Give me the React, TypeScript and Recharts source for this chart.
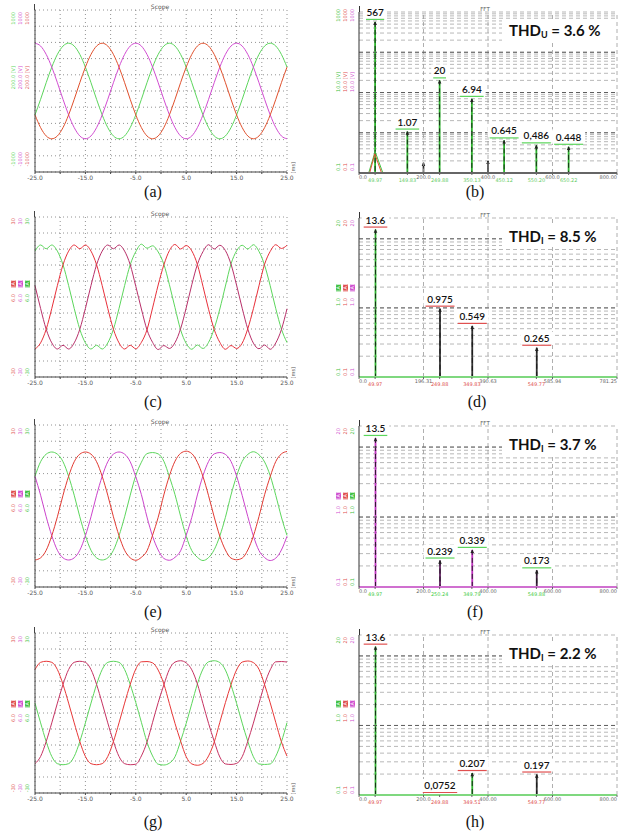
import React from 'react';
import { LineChart, Line, XAxis, YAxis, CartesianGrid, ComposedChart, Bar, LabelList, ReferenceLine } from 'recharts';

// ---------- time base of the scope traces (ms) ----------
const timeMs = [-25, -23.89, -22.78, -21.67, -20.56, -19.44, -18.33, -17.22, -16.11, -15, -13.89, -12.78, -11.67, -10.56, -9.44, -8.33, -7.22, -6.11, -5, -3.89, -2.78, -1.67, -0.56, 0.56, 1.67, 2.78, 3.89, 5, 6.11, 7.22, 8.33, 9.44, 10.56, 11.67, 12.78, 13.89, 15, 16.11, 17.22, 18.33, 19.44, 20.56, 21.67, 22.78, 23.89, 25];

// (a) phase voltages [V]
const voltA_green = [-295, -103, 103, 295, 452, 555, 590, 555, 452, 295, 103, -103, -295, -452, -555, -590, -555, -452,
  -295, -103, 103, 295, 452, 555, 590, 555, 452, 295, 103, -103, -295, -452, -555, -590, -555, -452,
  -295, -103, 103, 295, 452, 555, 590, 555, 452, 295];
const voltA_red = [-295, -452, -555, -590, -555, -452, -295, -103, 103, 295, 452, 555, 590, 555, 452, 295, 103, -103,
  -295, -452, -555, -590, -555, -452, -295, -103, 103, 295, 452, 555, 590, 555, 452, 295, 103, -103,
  -295, -452, -555, -590, -555, -452, -295, -103, 103, 295];
const voltA_magenta = [590, 555, 452, 295, 103, -103, -295, -452, -555, -590, -555, -452, -295, -103, 103, 295, 452, 555,
  590, 555, 452, 295, 103, -103, -295, -452, -555, -590, -555, -452, -295, -103, 103, 295, 452, 555,
  590, 555, 452, 295, 103, -103, -295, -452, -555, -590];

// (c) phase currents [A]
const curC_red = [-19.5, -17.2, -12.1, -4.3, 4.3, 12.1, 17.2, 19.5, 18.1, 19.5, 17.2, 12.1, 4.3, -4.3, -12.1, -17.2, -19.5, -18.1,
  -19.4, -17.0, -12.3, -4.1, 4.5, 12.0, 17.4, 19.7, 18.0, 19.3, 17.3, 12.2, 4.0, -4.6, -12.2, -17.0, -19.6, -18.2,
  -19.3, -17.3, -11.9, -4.4, 4.2, 12.3, 17.1, 19.6, 18.2, 19.4];
const curC_magenta = [4.3, -4.3, -12.1, -17.2, -19.5, -18.1, -19.5, -17.2, -12.1, -4.3, 4.3, 12.1, 17.2, 19.5, 18.1, 19.5, 17.2, 12.1,
  4.0, -4.5, -12.3, -17.0, -19.7, -18.2, -19.3, -17.1, -11.9, -4.1, 4.6, 12.2, 17.0, 19.6, 18.0, 19.4, 17.4, 12.3,
  4.4, -4.2, -12.0, -17.3, -19.4, -18.0, -19.6, -17.2, -12.2, -4.4];
const curC_green = [17.2, 19.5, 18.1, 19.5, 17.2, 12.1, 4.3, -4.3, -12.1, -17.2, -19.5, -18.1, -19.5, -17.2, -12.1, -4.3, 4.3, 12.1,
  17.0, 19.8, 18.3, 19.2, 16.9, 12.3, 4.6, -4.0, -12.3, -17.4, -19.6, -18.0, -19.3, -17.0, -11.8, -4.5, 4.1, 12.4,
  17.3, 19.4, 18.0, 19.6, 17.1, 11.9, 4.2, -4.4, -12.0, -17.1];

// (e) phase currents [A]
const curE_red = [-20, -19.2, -16.4, -11, -4, 4, 11, 16.4, 19.2, 20, 19.2, 16.4, 11, 4, -4, -11, -16.4, -19.2,
  -20.1, -19.0, -16.6, -10.8, -4.2, 4.1, 11.2, 16.6, 19.5, 20.3, 19.4, 16.2, 10.9, 3.8, -4.1, -11.2, -16.3, -19.3,
  -19.9, -19.3, -16.3, -11.1, -3.9, 4.2, 10.9, 16.5, 19.3, 20.2];
const curE_magenta = [11, 4, -4, -11, -16.4, -19.2, -20, -19.2, -16.4, -11, -4, 4, 11, 16.4, 19.2, 20, 19.2, 16.4,
  10.8, 4.2, -4.1, -11.2, -16.3, -19.4, -20.1, -19.0, -16.6, -10.8, -4.2, 4.1, 11.2, 16.5, 19.3, 19.8, 19.1, 16.5,
  11.1, 3.9, -3.9, -11.1, -16.5, -19.1, -20.2, -19.3, -16.3, -11.2];
const curE_green = [11, 16.4, 19.2, 20, 19.2, 16.4, 11, 4, -4, -11, -16.4, -19.2, -20, -19.2, -16.4, -11, -4, 4,
  11.3, 16.2, 19.4, 19.8, 19.3, 16.6, 10.8, 4.2, -3.8, -11.2, -16.5, -19.0, -20.2, -19.1, -16.2, -11.1, -4.2, 4.1,
  11.1, 16.5, 19.1, 20.1, 19.0, 16.3, 11.2, 3.9, -4.1, -10.9];

// (g) phase currents [A]
const curG_red = [16.3, 19.0, 19.4, 19.0, 16.3, 10.7, 3.7, -3.7, -10.7, -16.3, -19.0, -19.4, -19.0, -16.3, -10.7, -3.7, 3.7, 10.7,
  16.5, 19.2, 19.3, 18.8, 16.1, 10.9, 3.5, -3.9, -10.5, -16.4, -19.1, -19.6, -18.9, -16.1, -10.9, -3.5, 3.9, 10.6,
  16.2, 19.1, 19.5, 18.9, 16.4, 10.6, 3.8, -3.6, -10.8, -16.2];
const curG_crimson = [-19.0, -16.3, -10.7, -3.7, 3.7, 10.7, 16.3, 19.0, 19.4, 19.0, 16.3, 10.7, 3.7, -3.7, -10.7, -16.3, -19.0, -19.4,
  -19.2, -16.1, -10.9, -3.5, 3.9, 10.5, 16.4, 19.1, 19.6, 18.8, 16.2, 10.9, 3.5, -3.9, -10.6, -16.5, -19.1, -19.3,
  -18.9, -16.4, -10.6, -3.8, 3.6, 10.8, 16.2, 19.2, 19.3, 19.1];
const curG_green = [3.7, -3.7, -10.7, -16.3, -19.0, -19.4, -19.0, -16.3, -10.7, -3.7, 3.7, 10.7, 16.3, 19.0, 19.4, 19.0, 16.3, 10.7,
  3.9, -3.5, -10.9, -16.1, -19.2, -19.5, -18.8, -16.4, -10.5, -3.9, 3.5, 10.9, 16.5, 19.2, 19.6, 18.9, 16.1, 10.5,
  3.6, -3.8, -10.6, -16.4, -19.1, -19.3, -19.1, -16.2, -10.8, -3.6];

const scopeXTicks = [-25, -20, -15, -10, -5, 0, 5, 10, 15, 20, 25];
const scopeXLabels = [-25, -15, -5, 5, 15, 25];
const voltYTicks = [-1000, -800, -600, -400, -200, 0, 200, 400, 600, 800, 1000];
const curYTicks = [-30, -24, -18, -12, -6, 0, 6, 12, 18, 24, 30];

// ---------- FFT spectra ----------
const fftB_freq = [50, 150, 200, 250, 350, 400, 450, 550, 650];
const fftB_mag = [567, 1.07, 0.18, 20, 6.94, 0.2, 0.645, 0.486, 0.448];
const fftB_label = ['567', '1.07', '', '20', '6.94', '', '0.645', '0,486', '0.448'];
const fftB_leakGreen_f = [30, 50, 74];
const fftB_leakGreen_v = [0.1, 0.34, 0.1];
const fftB_leakRed_f = [33, 49, 70];
const fftB_leakRed_v = [0.1, 0.3, 0.1];
const fftB_xTicks = [0, 50, 150, 200, 250, 350, 400, 450, 550, 600, 650, 800];
const fftB_xText = ['0.0', '49.97', '149.83', '200.0', '249.88', '350.13', '400.0', '450.12', '550.20', '600.0', '650.22', '800.00'];

const fftD_freq = [50, 250, 350, 550];
const fftD_mag = [13.6, 0.975, 0.549, 0.265];
const fftD_label = ['13.6', '0.975', '0.549', '0.265'];
const fftD_xTicks = [0, 50, 200, 250, 350, 400, 550, 600, 800];
const fftD_xText = ['0.0', '49.97', '196.31', '249.88', '349.83', '390.63', '549.77', '585.94', '781.25'];

const fftF_freq = [50, 250, 350, 550];
const fftF_mag = [13.5, 0.239, 0.339, 0.173];
const fftF_label = ['13.5', '0.239', '0.339', '0.173'];
const fftF_xTicks = [0, 50, 200, 250, 350, 400, 550, 600, 800];
const fftF_xText = ['0.0', '49.97', '200.0', '250.24', '349.79', '400.00', '549.88', '600.00', '800.00'];

const fftH_freq = [50, 250, 350, 550];
const fftH_mag = [13.6, 0.0752, 0.207, 0.197];
const fftH_label = ['13.6', '0,0752', '0.207', '0.197'];
const fftH_xTicks = [0, 50, 200, 250, 350, 400, 550, 600, 800];
const fftH_xText = ['0.0', '49.97', '200.0', '249.88', '349.51', '400.00', '549.77', '600.00', '800.00'];

const logTicksU = [0.1, 0.2, 0.3, 0.4, 0.5, 0.6, 0.7, 0.8, 0.9, 1, 2, 3, 4, 5, 6, 7, 8, 9, 10, 20, 30, 40, 50, 60, 70, 80, 90, 100, 200, 300, 400, 500, 600, 700, 800, 900, 1000];
const logTicksI = [0.1, 0.2, 0.3, 0.4, 0.5, 0.6, 0.7, 0.8, 0.9, 1, 2, 3, 4, 5, 6, 7, 8, 9, 10, 20];
const decadesU = [1, 10, 100];
const decadesI = [1, 10];

const SMALL = 'DejaVu Sans, sans-serif';
const NoTick = () => <g />;

function VLabel({ x, y, text, color, bg }: any) {
  return (
    <div style={{ position: 'absolute', left: x, top: y, fontSize: 5, lineHeight: '5px', color: bg ? '#fff' : color, background: bg ? color : 'transparent', fontFamily: SMALL, writingMode: 'vertical-rl', transform: 'rotate(180deg)', whiteSpace: 'nowrap' }}>{text}</div>
  );
}

function LeftLabels({ xs, colors, topY, midY, botY, topText, midText, botText, boxed }: any) {
  return (
    <>
      {xs.map((x: number, i: number) => (
        <React.Fragment key={i}>
          <VLabel x={x} y={topY} text={topText} color={colors[i]} />
          {boxed ? <VLabel x={x} y={midY} text="[A]" color={colors[i]} bg /> : null}
          <VLabel x={x} y={midY + (boxed ? 14 : 0)} text={midText} color={colors[i]} />
          <VLabel x={x} y={botY} text={botText} color={colors[i]} />
        </React.Fragment>
      ))}
    </>
  );
}

const ScopeTick = (props: any) => {
  const { x, y, payload } = props;
  if (!scopeXLabels.includes(payload.value)) return <g />;
  return (
    <text x={x} y={y + 4} fontSize={6} fill="#555" textAnchor="middle" fontFamily={SMALL}>{Number(payload.value).toFixed(1)}</text>
  );
};

function ScopePanel({ top, plotTop, plotBottom, yMax, yTicks, traces }: any) {
  const h = plotBottom - top + 28;
  const rows = timeMs.map((t, i) => {
    const r: any = { t };
    traces.forEach((tr: any) => { r[tr.key] = tr.values[i]; });
    return r;
  });
  return (
    <div style={{ position: 'absolute', left: 0, top, width: 310, height: h }}>
      <LineChart width={310} height={h} data={rows} margin={{ top: plotTop - top, right: 23, bottom: 16, left: 34 }}>
        <CartesianGrid stroke="#777" strokeDasharray="1 3" strokeWidth={0.8} />
        <XAxis dataKey="t" type="number" domain={[-25, 25]} ticks={scopeXTicks} interval={0} tick={ScopeTick} height={12} tickSize={2} axisLine={{ stroke: '#444' }} tickLine={{ stroke: '#444' }} />
        <YAxis type="number" domain={[-yMax, yMax]} ticks={yTicks} interval={0} width={1} tick={NoTick} tickLine={false} axisLine={{ stroke: '#444' }} />
        {traces.map((tr: any) => (
          <Line key={tr.key} dataKey={tr.key} type="monotone" stroke={tr.color} strokeWidth={1} dot={false} isAnimationActive={false} />
        ))}
      </LineChart>
      <div style={{ position: 'absolute', left: 34, top: plotTop - top - 6, width: 1, height: 6, background: '#444' }} />
      <div style={{ position: 'absolute', left: 140, top: plotTop - top - 7, width: 40, textAlign: 'center', fontSize: 6, color: '#555', fontFamily: SMALL }}>Scope</div>
      <div style={{ position: 'absolute', left: 290, top: plotBottom - top - 10, fontSize: 5, color: '#555', fontFamily: SMALL, writingMode: 'vertical-rl', transform: 'rotate(180deg)' }}>[ms]</div>
    </div>
  );
}

const makeStem = (colors: string[]) => (p: any) => {
  const { x, y, width, height, index } = p;
  if (x == null || y == null || isNaN(y)) return <g />;
  const cx = x + width / 2;
  const top = Math.min(y, y + height);
  const bot = Math.max(y, y + height);
  const c = colors[index] || '#333';
  return (
    <g>
      <line x1={cx} x2={cx} y1={top} y2={bot} stroke={c} strokeWidth={1.8} />
      <line x1={cx} x2={cx} y1={top} y2={bot} stroke="#111" strokeWidth={0.8} strokeDasharray="5 3" />
      <path d={`M${cx - 1.8},${top + 3.2} L${cx},${top - 0.5} L${cx + 1.8},${top + 3.2} Z`} fill="#222" />
    </g>
  );
};

const makePeakLabel = (lineColor: string) => (p: any) => {
  const vb = p.viewBox && p.viewBox.x != null ? p.viewBox : p;
  const { x, y, width, height } = vb;
  const value = p.value;
  if (value === undefined || value === null || value === '' || x == null) return null;
  const cx = x + (width || 0) / 2;
  const top = Math.min(y, y + (height || 0));
  const w = String(value).length * 5.4 + 6;
  return (
    <g>
      <rect x={cx - w / 2} y={top - 16} width={w} height={13} fill="#fff" />
      <line x1={cx - w / 2 + 2} x2={cx + w / 2 - 2} y1={top - 2.5} y2={top - 2.5} stroke={lineColor} strokeWidth={1.2} />
      <text x={cx} y={top - 6} textAnchor="middle" fontSize={10} fontWeight={600} fontFamily="Lato, sans-serif" fill="#111">{value}</text>
    </g>
  );
};

const makeFftTick = (ticks: number[], texts: string[], hi: string) => (props: any) => {
  const { x, y, payload } = props;
  const i = ticks.indexOf(payload.value);
  const txt = i >= 0 ? texts[i] : '';
  const plain = payload.value % 200 === 0;
  const anchor = payload.value === 0 ? 'start' : payload.value === 800 ? 'end' : 'middle';
  return (
    <text x={x} y={y + (plain ? 1.5 : 5)} fontSize={5} fill={plain ? '#666' : hi} textAnchor={anchor} fontFamily={SMALL}>{txt}</text>
  );
};

function FFTPanel({ top, plotTop, plotBottom, yMax, yTicks, decades, freq, mag, labels, stemColors, labelLine, xTicks, xText, hiColor, axisColor, leaks, thd, sub }: any) {
  const h = plotBottom - top + 28;
  const rows = freq.map((f: number, i: number) => ({ f, v: mag[i], label: labels[i] }));
  return (
    <div style={{ position: 'absolute', left: 310, top, width: 310, height: h }}>
      <ComposedChart width={310} height={h} data={rows} margin={{ top: plotTop - top, right: 3, bottom: 16, left: 48 }}>
        <CartesianGrid vertical={false} stroke="#9a9a9a" strokeDasharray="4 3" strokeWidth={0.7} />
        {[200, 400, 600, 800].map((xv) => (
          <ReferenceLine key={'v' + xv} x={xv} stroke="#9a9a9a" strokeDasharray="4 3" strokeWidth={0.8} />
        ))}
        {decades.map((d: number) => (
          <ReferenceLine key={'d' + d} y={d} stroke="#555" strokeDasharray="4 3" strokeWidth={0.9} />
        ))}
        <XAxis dataKey="f" type="number" domain={[0, 800]} ticks={xTicks} interval={0} tick={makeFftTick(xTicks, xText, hiColor)} height={12} tickSize={2} axisLine={{ stroke: axisColor, strokeWidth: 2 }} tickLine={{ stroke: '#666' }} allowDataOverflow />
        <YAxis type="number" scale="log" domain={[0.1, yMax]} ticks={yTicks} interval={0} allowDataOverflow width={1} tick={NoTick} tickLine={false} axisLine={{ stroke: '#333' }} />
        {leaks.map((lk: any, j: number) => (
          <Line key={'lk' + j} data={lk.f.map((f: number, i: number) => ({ f, v: lk.v[i] }))} dataKey="v" type="linear" stroke={lk.color} strokeWidth={1} dot={false} isAnimationActive={false} />
        ))}
        <Bar dataKey="v" barSize={3} isAnimationActive={false} shape={makeStem(stemColors)}>
          <LabelList dataKey="label" content={makePeakLabel(labelLine)} />
        </Bar>
      </ComposedChart>
      <div style={{ position: 'absolute', left: 48.5, top: plotTop - top - 6, width: 1, height: 6, background: '#333' }} />
      <div style={{ position: 'absolute', left: 160, top: plotTop - top - 6, width: 30, textAlign: 'center', fontSize: 5.5, color: '#555', fontFamily: SMALL }}>FFT</div>
      <div style={{ position: 'absolute', left: 192, top: plotTop - top + 7, width: 113, height: 22, background: '#fff', display: 'flex', alignItems: 'center', paddingLeft: 7, boxSizing: 'border-box', fontFamily: 'Lato, sans-serif', fontWeight: 700, fontSize: 15, color: '#111', whiteSpace: 'nowrap' }}>
        THD<span style={{ fontSize: 9, position: 'relative', top: 4 }}>{sub}</span>&nbsp;= {thd} %
      </div>
    </div>
  );
}

function Caption({ x, y, text }: any) {
  return (
    <div style={{ position: 'absolute', left: x - 20, top: y - 9, width: 40, textAlign: 'center', fontFamily: 'Liberation Serif, Times New Roman, serif', fontSize: 16, lineHeight: '18px', color: '#111' }}>{text}</div>
  );
}

export default function App() {
  const G = '#5cd65c';
  const R = '#e23a32';
  const M = '#d24cd2';
  return (
    <div style={{ position: 'absolute', left: 0, top: 0, width: 620, height: 835, background: '#fff', overflow: 'hidden' }}>
      {/* (a) */}
      <ScopePanel top={0} plotTop={10} plotBottom={172} yMax={1000} yTicks={voltYTicks}
        traces={[{ key: 'g', values: voltA_green, color: G }, { key: 'm', values: voltA_magenta, color: M }, { key: 'r', values: voltA_red, color: '#e0502c' }]} />
      <LeftLabels xs={[11, 18, 25]} colors={[G, M, '#e06060']} topY={12} midY={66} botY={152} topText="1000" midText="200.0 [V]" botText="-1000" />
      {/* (c) */}
      <ScopePanel top={200} plotTop={217} plotBottom={377} yMax={30} yTicks={curYTicks}
        traces={[{ key: 'g', values: curC_green, color: G }, { key: 'm', values: curC_magenta, color: '#b8306a' }, { key: 'r', values: curC_red, color: '#e8303a' }]} />
      <LeftLabels xs={[11, 18, 25]} colors={['#e05050', '#d050d0', '#40c040']} topY={218} midY={280} botY={368} topText="30" midText="6.0" botText="-30" boxed />
      {/* (e) */}
      <ScopePanel top={410} plotTop={425} plotBottom={587} yMax={30} yTicks={curYTicks}
        traces={[{ key: 'g', values: curE_green, color: G }, { key: 'm', values: curE_magenta, color: '#cc44cc' }, { key: 'r', values: curE_red, color: R }]} />
      <LeftLabels xs={[11, 18, 25]} colors={['#e05050', '#d050d0', '#40c040']} topY={428} midY={490} botY={577} topText="30" midText="6.0" botText="-30" boxed />
      {/* (g) */}
      <ScopePanel top={620} plotTop={633} plotBottom={793} yMax={30} yTicks={curYTicks}
        traces={[{ key: 'g', values: curG_green, color: G }, { key: 'c', values: curG_crimson, color: '#c63262' }, { key: 'r', values: curG_red, color: '#e83838' }]} />
      <LeftLabels xs={[11, 18, 25]} colors={['#e05050', '#d050d0', '#40c040']} topY={636} midY={700} botY={784} topText="30" midText="6.0" botText="-30" boxed />

      {/* (b) */}
      <FFTPanel top={0} plotTop={12} plotBottom={173} yMax={1000} yTicks={logTicksU} decades={decadesU}
        freq={fftB_freq} mag={fftB_mag} labels={fftB_label}
        stemColors={['#2db52d', '#2db52d', '#555', '#2db52d', '#2db52d', '#555', '#2db52d', '#2db52d', '#2db52d']}
        labelLine="#5cd65c" xTicks={fftB_xTicks} xText={fftB_xText} hiColor="#6c6" axisColor="#666"
        leaks={[{ f: fftB_leakGreen_f, v: fftB_leakGreen_v, color: '#40c040' }, { f: fftB_leakRed_f, v: fftB_leakRed_v, color: '#e05030' }]}
        thd="3.6" sub="U" />
      <LeftLabels xs={[336, 343, 350]} colors={['#40c040', '#e05050', '#d050d0']} topY={9} midY={72} botY={163} topText="1000" midText="10.0 [V]" botText="0.1" />
      {/* (d) */}
      <FFTPanel top={200} plotTop={218} plotBottom={377} yMax={20} yTicks={logTicksI} decades={decadesI}
        freq={fftD_freq} mag={fftD_mag} labels={fftD_label}
        stemColors={['#2db52d', '#333', '#333', '#333']}
        labelLine="#e05050" xTicks={fftD_xTicks} xText={fftD_xText} hiColor="#e05050" axisColor="#7fd87f"
        leaks={[]} thd="8.5" sub="I" />
      <LeftLabels xs={[336, 343, 350]} colors={['#40c040', '#e05050', '#d050d0']} topY={220} midY={284} botY={368} topText="20" midText="1.0" botText="0.1" boxed />
      {/* (f) */}
      <FFTPanel top={410} plotTop={426} plotBottom={587} yMax={20} yTicks={logTicksI} decades={decadesI}
        freq={fftF_freq} mag={fftF_mag} labels={fftF_label}
        stemColors={['#c030c0', '#602060', '#c030c0', '#402040']}
        labelLine="#5cd65c" xTicks={fftF_xTicks} xText={fftF_xText} hiColor="#4c4" axisColor="#d070d0"
        leaks={[]} thd="3.7" sub="I" />
      <LeftLabels xs={[336, 343, 350]} colors={['#d050d0', '#e05050', '#40c040']} topY={428} midY={492} botY={578} topText="20" midText="1.0" botText="0.1" boxed />
      {/* (h) */}
      <FFTPanel top={620} plotTop={635} plotBottom={795} yMax={20} yTicks={logTicksI} decades={decadesI}
        freq={fftH_freq} mag={fftH_mag} labels={fftH_label}
        stemColors={['#2db52d', '#333', '#2db52d', '#333']}
        labelLine="#e05050" xTicks={fftH_xTicks} xText={fftH_xText} hiColor="#e05050" axisColor="#7fd87f"
        leaks={[]} thd="2.2" sub="I" />
      <LeftLabels xs={[336, 343, 350]} colors={['#40c040', '#e05050', '#d050d0']} topY={637} midY={700} botY={786} topText="20" midText="1.0" botText="0.1" boxed />

      <Caption x={153} y={192} text="(a)" />
      <Caption x={475} y={192} text="(b)" />
      <Caption x={153} y={402} text="(c)" />
      <Caption x={477} y={402} text="(d)" />
      <Caption x={153} y={612} text="(e)" />
      <Caption x={475} y={612} text="(f)" />
      <Caption x={153} y={822} text="(g)" />
      <Caption x={475} y={822} text="(h)" />
    </div>
  );
}
